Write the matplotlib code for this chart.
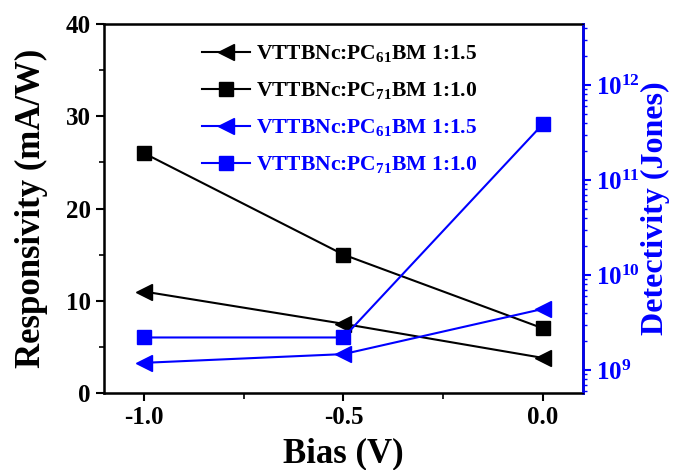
import matplotlib
matplotlib.use('Agg')
import matplotlib.pyplot as plt
from matplotlib.ticker import MultipleLocator, LogLocator, NullFormatter

plt.rcParams['font.family'] = ['Liberation Serif', 'DejaVu Serif']
plt.rcParams['font.weight'] = 'bold'
plt.rcParams['mathtext.fontset'] = 'custom'
plt.rcParams['mathtext.rm'] = 'Liberation Serif:bold'
plt.rcParams['mathtext.bf'] = 'Liberation Serif:bold'

# 数据
bias = [-1.0, -0.5, 0.0]
resp_61 = [11.0, 7.5, 3.8]
resp_71 = [26.0, 15.0, 7.0]
det_61 = [1.19e9, 1.47e9, 4.4e9]
det_71 = [2.2e9, 2.2e9, 3.9e11]
labels = [r'VTTBNc:PC$_{\mathbf{61}}$BM 1:1.5', r'VTTBNc:PC$_{\mathbf{71}}$BM 1:1.0',
          r'VTTBNc:PC$_{\mathbf{61}}$BM 1:1.5', r'VTTBNc:PC$_{\mathbf{71}}$BM 1:1.0']

fig = plt.figure(figsize=(6.73, 4.70), dpi=100)
ax = fig.add_axes([104/673, 1-393/470, 479/673, 369/470])
ax2 = ax.twinx()

h1, = ax.plot(bias, resp_61, '-<', color='black', lw=1.5, ms=12, label=labels[0])
h2, = ax.plot(bias, resp_71, '-s', color='black', lw=1.5, ms=10, label=labels[1])
h3, = ax2.plot(bias, det_61, '-<', color='blue', lw=1.5, ms=12, label=labels[2])
h4, = ax2.plot(bias, det_71, '-s', color='blue', lw=1.5, ms=10, label=labels[3])

ax.set_xlim(-1.1, 0.1)
ax.set_ylim(0, 40)
ax.xaxis.set_major_locator(MultipleLocator(0.5))
ax.xaxis.set_minor_locator(MultipleLocator(0.25))
ax.yaxis.set_major_locator(MultipleLocator(10))
ax.yaxis.set_minor_locator(MultipleLocator(5))
ax.set_xticks([-1.0, -0.5, 0.0])
ax.set_xticklabels(['-1.0', '-0.5', '0.0'])
ax.tick_params(axis='both', which='major', direction='out', length=6, width=1.5, labelsize=18)
ax.tick_params(axis='both', which='minor', direction='out', length=3.5, width=1.2)
ax.tick_params(axis='x', which='minor', length=4)
for s in ax.spines.values():
    s.set_linewidth(1.8)
ax.set_xlabel('Bias (V)', fontsize=25, fontweight='bold', labelpad=6)
ax.set_ylabel('Responsivity (mA/W)', fontsize=25, fontweight='bold', labelpad=13)

ax2.set_yscale('log')
ax2.set_ylim(10**8.758, 10**12.642)
ax2.yaxis.set_major_locator(LogLocator(base=10, numticks=10))
ax2.yaxis.set_minor_locator(LogLocator(base=10, subs=range(2, 10), numticks=20))
ax2.yaxis.set_minor_formatter(NullFormatter())
ax2.tick_params(axis='y', which='major', direction='out', length=6, width=1.5, labelsize=18,
                colors='blue')
ax2.tick_params(axis='y', which='minor', direction='out', length=3, width=1.0, colors='blue')
ax2.spines['right'].set_color('blue')
ax2.spines['right'].set_linewidth(1.8)
ax2.set_ylabel('Detectivity (Jones)', fontsize=23, fontweight='bold', color='blue')
ax2.yaxis.set_label_coords(1.121, 0.5)

leg = ax.legend(handles=[h1, h2, h3, h4], loc='upper left', bbox_to_anchor=(0.165, 1.0),
                frameon=False, fontsize=15.5, handlelength=2.2, labelspacing=0.72,
                handletextpad=0.3)
for t, c in zip(leg.get_texts(), ['black', 'black', 'blue', 'blue']):
    t.set_color(c)

plt.savefig('out.png', dpi=100)
plt.close()
